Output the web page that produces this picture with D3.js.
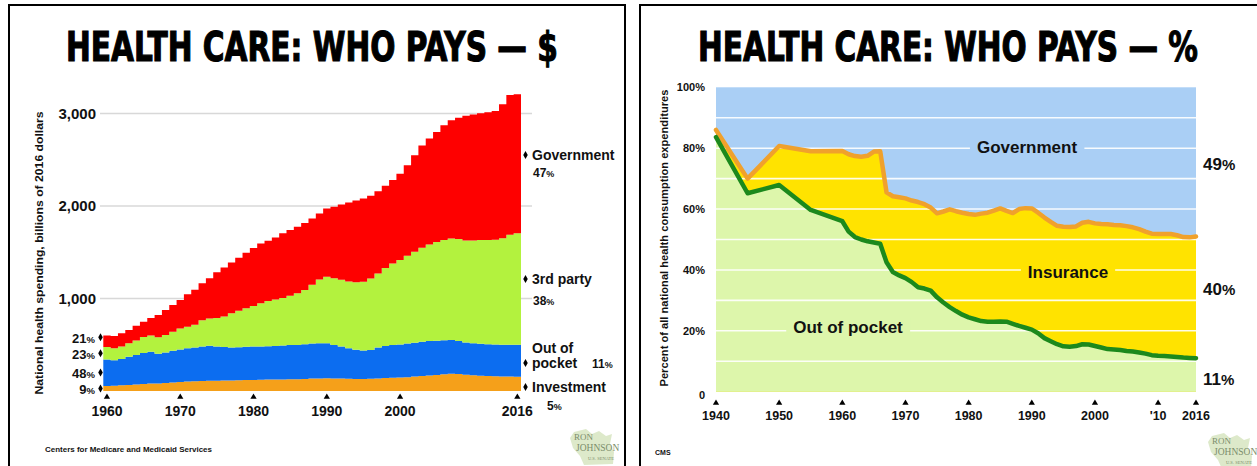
<!DOCTYPE html>
<html>
<head>
<meta charset="utf-8">
<title>Health care: who pays</title>
<script src="https://cdn.jsdelivr.net/npm/d3@7/dist/d3.min.js"></script>
<style>
  html, body { margin: 0; padding: 0; background: #fff; }
  svg { display: block; }
  text { font-family: "Liberation Sans", Arial, sans-serif; font-weight: bold; fill: #111; }
  .title { font-family: "Liberation Sans Narrow", "DejaVu Sans Condensed", "Liberation Sans", sans-serif; fill: #000; stroke: #000; stroke-width: 0.9; }
  .logo text { font-family: "Liberation Serif", "DejaVu Serif", serif; font-weight: normal; fill: #7b8d6a; }
</style>
</head>
<body>
<svg id="chart" width="1257" height="466"></svg>
<script>
// ---------- National health spending by payer, billions of 2016 dollars ----------
const spendYears = [
  1960, 1961, 1962, 1963, 1964, 1965, 1966, 1967, 1968, 1969,
  1970, 1971, 1972, 1973, 1974, 1975, 1976, 1977, 1978, 1979,
  1980, 1981, 1982, 1983, 1984, 1985, 1986, 1987, 1988, 1989,
  1990, 1991, 1992, 1993, 1994, 1995, 1996, 1997, 1998, 1999,
  2000, 2001, 2002, 2003, 2004, 2005, 2006, 2007, 2008, 2009,
  2010, 2011, 2012, 2013, 2014, 2015, 2016
];
const investment = [
  54, 58, 62, 66, 70, 75, 80, 82, 86, 92,
  98, 102, 105, 108, 110, 112, 113, 114, 116, 118,
  120, 122, 123, 124, 125, 126, 128, 131, 134, 136,
  137, 136, 134, 132, 130, 130, 132, 136, 140, 142,
  145, 150, 156, 162, 168, 174, 182, 187, 185, 176,
  170, 166, 163, 160, 158, 156, 155
];
const outOfPocket = [
  286, 274, 283, 304, 320, 337, 345, 320, 329, 343,
  352, 360, 365, 372, 378, 370, 362, 356, 356, 360,
  360, 358, 362, 363, 367, 371, 370, 375, 379, 379,
  378, 362, 346, 330, 315, 307, 312, 334, 346, 355,
  359, 364, 366, 370, 372, 368, 368, 365, 356, 347,
  345, 345, 342, 344, 342, 344, 345
];
const thirdParty = [
  136, 130, 137, 145, 155, 173, 175, 180, 190, 205,
  225, 233, 245, 285, 297, 308, 330, 370, 396, 417,
  440, 468, 487, 503, 513, 533, 560, 586, 637, 690,
  720, 722, 722, 723, 730, 743, 771, 800, 844, 881,
  911, 948, 983, 1016, 1045, 1070, 1082, 1098, 1102, 1105,
  1113, 1121, 1127, 1131, 1152, 1188, 1205
];
const government = [
  124, 133, 143, 145, 160, 165, 188, 240, 270, 290,
  309, 350, 380, 400, 435, 495, 530, 550, 572, 600,
  625, 647, 653, 670, 700, 710, 717, 723, 715, 715,
  737, 772, 813, 853, 885, 902, 895, 890, 890, 902,
  935, 978, 1045, 1107, 1145, 1188, 1240, 1278, 1312, 1347,
  1362, 1370, 1381, 1392, 1448, 1512, 1502
];
const spendTicks = [1000, 2000, 3000];
const spendYearTicks = [1960, 1970, 1980, 1990, 2000, 2016];

// ---------- Share of national health consumption expenditures, percent ----------
const shareYears = [
  1940, 1945, 1950, 1955,
  1960, 1961, 1962, 1963, 1964, 1965, 1966, 1967, 1968, 1969,
  1970, 1971, 1972, 1973, 1974, 1975, 1976, 1977, 1978, 1979,
  1980, 1981, 1982, 1983, 1984, 1985, 1986, 1987, 1988, 1989,
  1990, 1991, 1992, 1993, 1994, 1995, 1996, 1997, 1998, 1999,
  2000, 2001, 2002, 2003, 2004, 2005, 2006, 2007, 2008, 2009,
  2010, 2011, 2012, 2013, 2014, 2015, 2016
];
const outOfPocketShare = [
  83.6, 65.2, 67.9, 59.7,
  56.0, 52.6, 50.8, 50.0, 49.4, 49.0, 48.6, 42.5, 39.3, 38.2,
  37.3, 36.0, 34.3, 33.9, 33.2, 31.0, 29.3, 27.8, 26.5, 25.3,
  24.4, 23.8, 23.2, 23.0, 23.0, 23.1, 23.0, 22.3, 21.6, 21.0,
  20.4, 19.2, 17.6, 16.6, 15.6, 14.9, 14.8, 15.0, 15.6, 15.5,
  15.0, 14.5, 14.0, 13.9, 13.7, 13.4, 13.2, 12.9, 12.5, 12.0,
  11.8, 11.7, 11.6, 11.4, 11.2, 11.1, 11.0
];
// out of pocket plus insurance; government pays the remainder
const privateShare = [
  86.0, 70.0, 80.7, 79.0,
  79.1, 78.0, 77.4, 77.2, 77.5, 78.9, 79.0, 65.5, 64.2, 63.9,
  63.5, 62.8, 62.3, 61.6, 60.5, 58.6, 59.2, 59.9, 59.3, 58.8,
  58.4, 58.1, 58.5, 58.8, 59.5, 60.2, 59.4, 58.7, 60.0, 60.3,
  60.2, 58.8, 57.2, 55.8, 54.5, 54.2, 54.1, 54.3, 55.5, 55.8,
  55.3, 55.1, 55.0, 54.8, 54.7, 54.4, 54.0, 53.4, 52.6, 51.9,
  51.8, 51.8, 51.8, 51.4, 50.8, 50.7, 51.0
];
const shareTicks = [0, 20, 40, 60, 80, 100];
const shareGrid = [10, 20, 30, 40, 50, 60, 70, 80, 90];
const shareYearTicks = [1940, 1950, 1960, 1970, 1980, 1990, 2000, 2010, 2016];
const shareYearLabels = ["1940", "1950", "1960", "1970", "1980", "1990", "2000", "'10", "2016"];

// ---------- colours ----------
const spendColors = {
  investment: "#f5a01a",
  outOfPocket: "#0c6df0",
  thirdParty: "#b3f23e",
  government: "#fe0000"
};
const shareColors = {
  government: "#aacff5",
  insurance: "#ffe300",
  outOfPocket: "#ddf6ab",
  privateLine: "#f0a12c",
  oopLine: "#1c891c"
};

const svg = d3.select("#chart");

// ---------- panel frames ----------
svg.append("path").attr("d", "M9,470 V5 H625 V470")
  .attr("fill", "none").attr("stroke", "#000").attr("stroke-width", 2);
svg.append("path").attr("d", "M640,470 V5 H1262")
  .attr("fill", "none").attr("stroke", "#000").attr("stroke-width", 2);

// ---------- titles: sized to a set width, then stretched to a set cap height ----------
function title(text, cx, baseline, width, height) {
  const t = svg.append("text").attr("class", "title")
    .attr("text-anchor", "middle").attr("font-size", 40).text(text);
  const natural = t.node().getComputedTextLength();
  const size = 40 * width / natural;
  t.attr("font-size", size)
    .attr("transform", `translate(${cx},${baseline}) scale(1,${height / size})`);
}
title("HEALTH CARE: WHO PAYS — $", 312, 61, 492, 41);
title("HEALTH CARE: WHO PAYS — %", 948, 61, 500, 41);

function pctText(sel, value, bigSize, smallSize) {
  sel.append("tspan").attr("font-size", bigSize).text(value);
  sel.append("tspan").attr("font-size", smallSize).text("%");
}

// =====================================================================
// Left panel: stacked spending by payer, one step per year
// =====================================================================
const lx = d3.scaleLinear().domain([1959.5, 2016.5]).range([103.3, 521]);
const ly = d3.scaleLinear().domain([0, 3000]).range([391, 113.5]);

const left = svg.append("g");

// gridlines run past the data to the side labels
left.selectAll("line.grid").data(spendTicks).join("line")
  .attr("x1", 100).attr("x2", 532)
  .attr("y1", d => ly(d)).attr("y2", d => ly(d))
  .attr("stroke", "#d8d8d8").attr("stroke-width", 1.5);

left.selectAll("text.ytick").data(spendTicks).join("text")
  .attr("x", 96).attr("y", d => ly(d)).attr("dy", "0.36em")
  .attr("text-anchor", "end").attr("font-size", 15)
  .text(d3.format(","));

const keys = ["investment", "outOfPocket", "thirdParty", "government"];
const spendRows = spendYears.map((year, i) => ({
  year,
  investment: investment[i],
  outOfPocket: outOfPocket[i],
  thirdParty: thirdParty[i],
  government: government[i]
}));
const stacked = d3.stack().keys(keys)(spendRows);

const stepArea = d3.area()
  .curve(d3.curveStepAfter)
  .x(d => lx(d.x))
  .y0(d => ly(d.y0))
  .y1(d => ly(d.y1));

left.selectAll("path.layer").data(stacked).join("path")
  .attr("fill", s => spendColors[s.key])
  .attr("d", s => {
    const pts = s.map(p => ({ x: p.data.year - 0.5, y0: p[0], y1: p[1] }));
    const last = s[s.length - 1];
    pts.push({ x: last.data.year + 0.5, y0: last[0], y1: last[1] });
    return stepArea(pts);
  });

// year ticks
const tri = d3.symbol().type(d3.symbolTriangle).size(17);
left.selectAll("path.xtick").data(spendYearTicks).join("path")
  .attr("d", tri).attr("fill", "#000")
  .attr("transform", d => `translate(${lx(d)},397)`);
left.selectAll("text.xtick").data(spendYearTicks).join("text")
  .attr("x", d => lx(d)).attr("y", 416).attr("text-anchor", "middle")
  .attr("font-size", 14).text(d => d);

// first-year shares, placed beside each layer and spread apart
const diamond = d3.symbol().type(d3.symbolDiamond).size(18);
const first = spendRows[0];
const firstTotal = d3.sum(keys, k => first[k]);
const firstLabels = stacked.map(s => ({
  key: s.key,
  share: Math.round(first[s.key] / firstTotal * 100),
  y: ly((s[0][0] + s[0][1]) / 2)
}));
for (let i = 1; i < firstLabels.length; i++) {
  if (firstLabels[i].y > firstLabels[i - 1].y - 16) firstLabels[i].y = firstLabels[i - 1].y - 16;
}
firstLabels.forEach(l => {
  const t = left.append("text").attr("x", 95).attr("y", l.y).attr("dy", "0.36em")
    .attr("text-anchor", "end");
  pctText(t, l.share, 13, 9.5);
  left.append("path").attr("d", diamond).attr("fill", "#000")
    .attr("transform", `translate(100.5,${l.y})`);
});

// last-year shares on the right
const lastRow = spendRows[spendRows.length - 1];
const lastTotal = d3.sum(keys, k => lastRow[k]);
const lastShare = k => Math.round(lastRow[k] / lastTotal * 100);

function sideMark(y) {
  left.append("path").attr("d", diamond).attr("fill", "#000")
    .attr("transform", `translate(525.5,${y})`);
}
sideMark(155);
left.append("text").attr("x", 532).attr("y", 160).attr("font-size", 14).text("Government");
pctText(left.append("text").attr("x", 533).attr("y", 177), lastShare("government"), 12, 9);

sideMark(279);
left.append("text").attr("x", 532).attr("y", 284).attr("font-size", 14).text("3rd party");
pctText(left.append("text").attr("x", 533).attr("y", 305), lastShare("thirdParty"), 12, 9);

left.append("text").attr("x", 532).attr("y", 353).attr("font-size", 14).text("Out of");
sideMark(363);
left.append("text").attr("x", 532).attr("y", 368).attr("font-size", 14).text("pocket");
pctText(left.append("text").attr("x", 592).attr("y", 368), lastShare("outOfPocket"), 12, 9);

sideMark(387);
left.append("text").attr("x", 532).attr("y", 392).attr("font-size", 14).text("Investment");
pctText(left.append("text").attr("x", 547).attr("y", 410), lastShare("investment"), 12, 9);

// axis title
left.append("text")
  .attr("transform", "translate(43,253) rotate(-90)")
  .attr("text-anchor", "middle").attr("font-size", 10.5)
  .attr("textLength", 283).attr("lengthAdjust", "spacingAndGlyphs")
  .text("National health spending, billions of 2016 dollars");

left.append("text").attr("x", 45).attr("y", 452).attr("font-size", 7.5)
  .attr("textLength", 167).attr("lengthAdjust", "spacingAndGlyphs")
  .text("Centers for Medicare and Medicaid Services");

// =====================================================================
// Right panel: shares by payer
// =====================================================================
const rx = d3.scaleLinear().domain([1940, 2016]).range([716, 1196]);
const ry = d3.scaleLinear().domain([0, 100]).range([391.7, 87.3]);
const right = svg.append("g");

const shareRows = shareYears.map((year, i) => ({
  year, oop: outOfPocketShare[i], priv: privateShare[i]
}));

// government fills everything above the private share
right.append("rect")
  .attr("x", rx(1940)).attr("y", ry(100))
  .attr("width", rx(2016) - rx(1940)).attr("height", ry(0) - ry(100))
  .attr("fill", shareColors.government);

right.append("path").datum(shareRows)
  .attr("fill", shareColors.insurance)
  .attr("d", d3.area().x(d => rx(d.year)).y0(ry(0)).y1(d => ry(d.priv)));
right.append("path").datum(shareRows)
  .attr("fill", shareColors.outOfPocket)
  .attr("d", d3.area().x(d => rx(d.year)).y0(ry(0)).y1(d => ry(d.oop)));

right.selectAll("line.grid").data(shareGrid).join("line")
  .attr("x1", rx(1940)).attr("x2", rx(2016))
  .attr("y1", d => ry(d)).attr("y2", d => ry(d))
  .attr("stroke", "#fff").attr("stroke-width", 1.6).attr("stroke-opacity", 0.9);

right.append("path").datum(shareRows)
  .attr("fill", "none").attr("stroke", shareColors.privateLine)
  .attr("stroke-width", 4.5).attr("stroke-linejoin", "round").attr("stroke-linecap", "round")
  .attr("d", d3.line().x(d => rx(d.year)).y(d => ry(d.priv)));
right.append("path").datum(shareRows)
  .attr("fill", "none").attr("stroke", shareColors.oopLine)
  .attr("stroke-width", 4.5).attr("stroke-linejoin", "round").attr("stroke-linecap", "round")
  .attr("d", d3.line().x(d => rx(d.year)).y(d => ry(d.oop)));

// area names sit on a patch of their own colour, breaking the gridline
function areaLabel(text, cx, baseline, fill) {
  const g = right.append("g");
  const r = g.append("rect").attr("fill", fill);
  const t = g.append("text").attr("x", cx).attr("y", baseline)
    .attr("text-anchor", "middle").attr("font-size", 17).attr("fill", "#101820").text(text);
  const b = t.node().getBBox();
  r.attr("x", b.x - 7).attr("y", b.y).attr("width", b.width + 14).attr("height", b.height);
}
areaLabel("Government", 1027, 153, shareColors.government);
areaLabel("Insurance", 1068, 278, shareColors.insurance);
areaLabel("Out of pocket", 848, 333, shareColors.outOfPocket);

// y ticks
right.selectAll("text.ytick").data(shareTicks).join("text")
  .attr("x", 705).attr("y", d => ry(d) + (d === 0 ? 3 : 0)).attr("dy", "0.36em")
  .attr("text-anchor", "end").attr("font-size", 11)
  .text(d => d === 0 ? "0" : d + "%");

// year ticks
right.selectAll("path.xtick").data(shareYearTicks).join("path")
  .attr("d", tri).attr("fill", "#000")
  .attr("transform", d => `translate(${rx(d)},403)`);
right.selectAll("text.xtick").data(shareYearTicks).join("text")
  .attr("x", d => rx(d)).attr("y", 420).attr("text-anchor", "middle")
  .attr("font-size", 12.5).text((d, i) => shareYearLabels[i]);

// final-year shares
const end = shareRows[shareRows.length - 1];
const endShares = [
  { v: Math.round(100 - end.priv), y: 170 },
  { v: Math.round(end.priv - end.oop), y: 295 },
  { v: Math.round(end.oop), y: 385 }
];
endShares.forEach(s => {
  pctText(right.append("text").attr("x", 1203).attr("y", s.y), s.v, 17, 15);
});

right.append("text")
  .attr("transform", "translate(668,238) rotate(-90)")
  .attr("text-anchor", "middle").attr("font-size", 10)
  .attr("textLength", 297).attr("lengthAdjust", "spacingAndGlyphs")
  .text("Percent of all national health consumption expenditures");

right.append("text").attr("x", 655).attr("y", 455).attr("font-size", 7).text("CMS");

// ---------- senate logo ----------
function logo(x, y) {
  const g = svg.append("g").attr("class", "logo").attr("transform", `translate(${x},${y})`);
  g.append("path")
    .attr("d", "M6,4 L18,1 L24,6 L31,3 L38,8 L44,6 L42,16 L46,24 L45,36 L16,37 L12,28 L5,20 L2,10 Z")
    .attr("fill", "#d5e4bd").attr("opacity", 0.8);
  g.append("text").attr("x", 6).attr("y", 12).attr("font-size", 9).text("RON");
  g.append("text").attr("x", 8).attr("y", 23).attr("font-size", 9.5).text("JOHNSON");
  g.append("text").attr("x", 20).attr("y", 32).attr("font-size", 4.5).text("U.S. SENATE");
}
logo(568, 428);
logo(1206, 432);
</script>
</body>
</html>
